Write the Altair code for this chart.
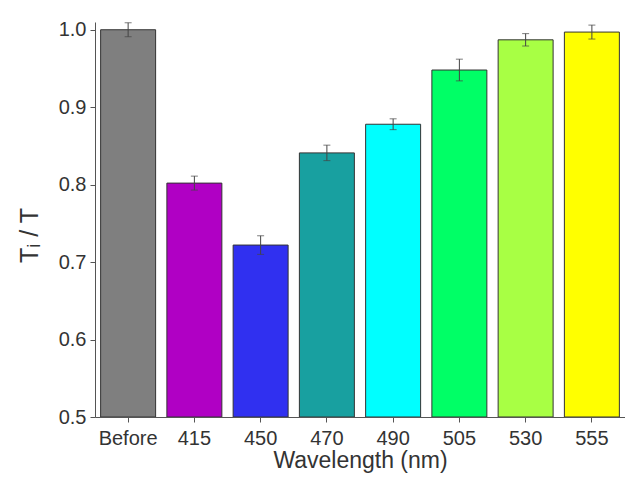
import altair as alt
import pandas as pd

categories = ["Before", "415", "450", "470", "490", "505", "530", "555"]
values = [1.000, 0.802, 0.722, 0.841, 0.878, 0.948, 0.987, 0.997]
errors = [0.009, 0.009, 0.012, 0.010, 0.007, 0.014, 0.008, 0.009]
colors = ["#7f7f7f", "#b000c4", "#3030f0", "#18a0a0", "#00ffff", "#00ff66", "#a8ff44", "#ffff00"]

df = pd.DataFrame({"cat": categories, "val": values, "err": errors, "col": colors})

FONT = "Liberation Sans"

xenc = alt.X("cat:N", sort=categories,
             scale=alt.Scale(paddingInner=0.17, paddingOuter=0.085),
             axis=alt.Axis(title="Wavelength (nm)", labelAngle=0, labelFontSize=20,
                           titleFontSize=23, labelColor="#333333", titleColor="#333333",
                           titleFontWeight="normal", labelFont=FONT, titleFont=FONT,
                           tickSize=5, labelPadding=6, titlePadding=1,
                           domainColor="#555555", tickColor="#555555"))
yscale = alt.Scale(domain=[0.5, 1.01], nice=False, zero=False)

bars = alt.Chart(df).mark_bar(stroke="#333333", strokeWidth=1, clip=True).encode(
    x=xenc,
    y=alt.Y("val:Q", scale=yscale,
            axis=alt.Axis(title="Tᵢ / T", values=[0.5, 0.6, 0.7, 0.8, 0.9, 1.0], format=".1f",
                          labelFontSize=20, titleFontSize=25, labelColor="#333333",
                          titleColor="#333333", titleFontWeight="normal", labelFont=FONT,
                          titleFont=FONT, grid=False, tickSize=5, labelPadding=4,
                          titlePadding=16, titleY=213, domainColor="#555555",
                          tickColor="#555555")),
    y2=alt.datum(0.5),
    fill=alt.Fill("col:N", scale=None),
)

base = alt.Chart(df).transform_calculate(
    lo="datum.val - datum.err", hi="datum.val + datum.err"
)
rule = base.mark_rule(color="#444444", strokeWidth=1).encode(
    x=alt.X("cat:N", sort=categories), y=alt.Y("lo:Q", scale=yscale), y2="hi:Q")
cap_hi = base.mark_tick(color="#444444", thickness=1, size=7, orient="horizontal").encode(
    x=alt.X("cat:N", sort=categories), y=alt.Y("hi:Q", scale=yscale))
cap_lo = base.mark_tick(color="#444444", thickness=1, size=7, orient="horizontal").encode(
    x=alt.X("cat:N", sort=categories), y=alt.Y("lo:Q", scale=yscale))

chart = alt.layer(bars, rule, cap_hi, cap_lo).properties(
    width=530, height=395, background="white",
    padding={"left": 87, "top": 14, "right": 0, "bottom": 57},
    autosize=alt.AutoSizeParams(type="none"),
).configure_view(strokeWidth=0, stroke="transparent").configure_axis(grid=False)

chart.save("out.html", embed_options={"renderer": "svg", "actions": False})
